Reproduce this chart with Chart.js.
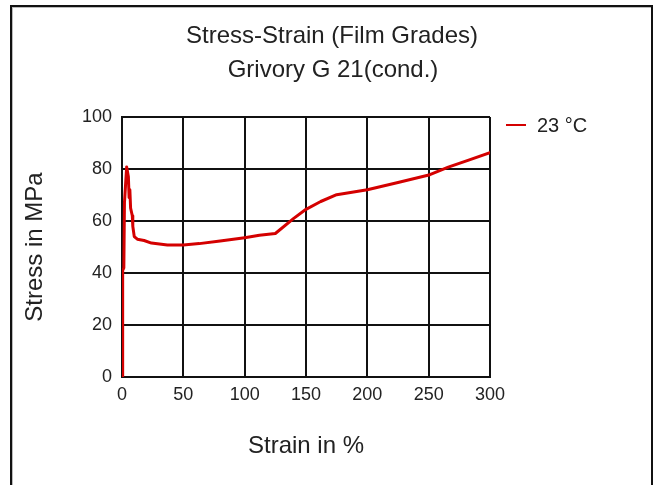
<!DOCTYPE html>
<html>
<head>
<meta charset="utf-8">
<script src="https://cdn.jsdelivr.net/npm/chart.js@4"></script>
<style>
  html, body { margin: 0; padding: 0; background: #fff; }
  #wrap { position: relative; width: 656px; height: 485px; overflow: hidden; }
  #frame { position: absolute; left: 10px; top: 5px; width: 639px; height: 520px;
           border: 2px solid #111; box-shadow: inset 1px 1px 0 #bbb; }
  canvas { position: absolute; left: 0; top: 0; }
</style>
</head>
<body>
<div id="wrap">
  <div id="frame"></div>
  <canvas id="c" width="656" height="485"></canvas>
</div>
<script>
const titleLines = ["Stress-Strain (Film Grades)", "Grivory G 21(cond.)"];
const xTitle = "Strain in %";
const yTitle = "Stress in MPa";
const seriesLabel = "23 °C";
const strain = [0, 0.2, 0.6, 0.8, 1.5, 2, 3.8, 5.2, 5.8, 6.4, 7, 8.4, 8.8, 10, 12.5, 18, 24, 37, 50, 63, 80, 100, 112, 125, 140, 150, 162, 175, 200, 225, 251, 266, 282, 300];
const stress = [0, 14, 15, 41, 42, 67, 80.8, 77, 69, 72, 65, 62, 58, 54, 53, 52.5, 51.5, 50.8, 50.8, 51.3, 52.3, 53.6, 54.5, 55.2, 61, 64.5, 67.5, 70.1, 72, 74.8, 77.8, 80.7, 83.3, 86.3];
const xTicks = [0, 50, 100, 150, 200, 250, 300];
const yTicks = [0, 20, 40, 60, 80, 100];

const FONT = "'Liberation Sans', Arial, sans-serif";
const TEXT = "#222";
const RED = "#d40000";

const points = strain.map((x, i) => ({ x: x, y: stress[i] }));

const overlay = {
  id: 'overlay',
  afterDraw(chart) {
    const ctx = chart.ctx;
    ctx.save();
    ctx.fillStyle = TEXT;
    ctx.font = "24px " + FONT;
    ctx.textAlign = 'center';
    ctx.textBaseline = 'alphabetic';
    ctx.fillText(titleLines[0], 332, 43);
    ctx.fillText(titleLines[1], 333, 77);
    // legend
    const ds = chart.data.datasets[0];
    ctx.strokeStyle = ds.borderColor;
    ctx.lineWidth = 2;
    ctx.beginPath();
    ctx.moveTo(506, 125);
    ctx.lineTo(526, 125);
    ctx.stroke();
    ctx.font = "20px " + FONT;
    ctx.textAlign = 'left';
    ctx.fillText(ds.label, 537, 132);
    ctx.restore();
  }
};

new Chart(document.getElementById('c'), {
  type: 'line',
  data: {
    datasets: [{
      label: seriesLabel,
      data: points,
      borderColor: RED,
      backgroundColor: RED,
      borderWidth: 3,
      borderJoinStyle: 'round',
      borderCapStyle: 'round',
      pointRadius: 0,
      tension: 0,
      fill: false
    }]
  },
  options: {
    responsive: false,
    animation: false,
    devicePixelRatio: 1,
    layout: { padding: { top: 117, right: 166, left: 0, bottom: 0 } },
    plugins: { legend: { display: false }, title: { display: false }, tooltip: { enabled: false } },
    scales: {
      x: {
        type: 'linear',
        min: 0, max: 300,
        afterBuildTicks(scale) { scale.ticks = xTicks.map(v => ({ value: v })); },
        afterFit(scale) { scale.height = 108; },
        grid: { color: '#111', lineWidth: 2, drawTicks: false },
        border: { color: '#111', width: 2 },
        ticks: { color: TEXT, font: { family: FONT, size: 18 }, padding: 7, maxRotation: 0 },
        title: { display: true, text: xTitle, color: TEXT, font: { family: FONT, size: 24 }, padding: { top: 0, bottom: 24 } }
      },
      y: {
        min: 0, max: 100,
        afterBuildTicks(scale) { scale.ticks = yTicks.map(v => ({ value: v })); },
        afterFit(scale) { scale.width = 122; },
        grid: { color: '#111', lineWidth: 2, drawTicks: false },
        border: { color: '#111', width: 2 },
        ticks: { color: TEXT, font: { family: FONT, size: 18 }, padding: 10 },
        title: { display: true, text: yTitle, color: TEXT, font: { family: FONT, size: 24 }, padding: { top: 21, bottom: 0 } }
      }
    }
  },
  plugins: [overlay]
});
</script>
</body>
</html>
